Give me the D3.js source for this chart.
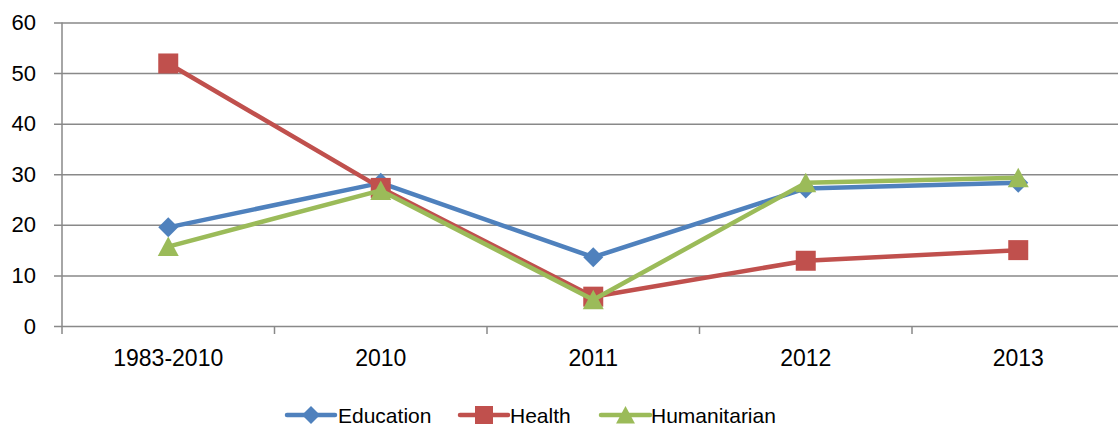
<!DOCTYPE html>
<html>
<head>
<meta charset="utf-8">
<script src="https://cdn.jsdelivr.net/npm/d3@7"></script>
<style>
  html, body { margin: 0; padding: 0; background: #fff; }
  svg { display: block; font-family: "Liberation Sans", Arial, sans-serif; }
</style>
</head>
<body>
<svg id="chart" width="1118" height="429"></svg>
<script>
const categories = ["1983-2010", "2010", "2011", "2012", "2013"];
const education = [19.5, 28.3, 13.6, 27.2, 28.3];
const health = [51.9, 27.3, 5.8, 12.9, 15.0];
const humanitarian = [15.7, 26.8, 5.2, 28.3, 29.3];
const yTicks = [0, 10, 20, 30, 40, 50, 60];
const seriesNames = ["Education", "Health", "Humanitarian"];

(function () {
const series = [
  { name: seriesNames[0], values: education, color: "#4F81BD", marker: "diamond" },
  { name: seriesNames[1], values: health, color: "#C0504D", marker: "square" },
  { name: seriesNames[2], values: humanitarian, color: "#9BBB59", marker: "triangle" }
];

const svg = d3.select("#chart");
const pLeft = 62, pRight = 1124.5, pTop = 22.5, pBottom = 326;

const x = d3.scaleBand().domain(categories).range([pLeft, pRight]).padding(0);
const y = d3.scaleLinear().domain([0, 60]).range([pBottom, pTop]);
const cx = c => x(c) + x.bandwidth() / 2;

const gridColor = "#898989";

// gridlines + y labels
const yAxis = d3.axisLeft(y).tickValues(yTicks).tickSize(8).tickPadding(18);
const gy = svg.append("g").attr("transform", `translate(${pLeft},0)`).call(yAxis);
gy.select(".domain").remove();
gy.selectAll(".tick line").attr("stroke", gridColor).attr("stroke-width", 1.5)
  .attr("x1", -8).attr("x2", pRight - pLeft);
gy.selectAll(".tick text").attr("font-size", 22).attr("fill", "#000")
  .attr("font-family", "Liberation Sans, Arial, sans-serif");

// y axis line
svg.append("line").attr("x1", pLeft).attr("x2", pLeft).attr("y1", pTop).attr("y2", pBottom + 8)
  .attr("stroke", gridColor).attr("stroke-width", 1.5);

// x axis labels
const xAxis = d3.axisBottom(x).tickSize(0).tickPadding(24);
const gx = svg.append("g").attr("transform", `translate(0,${pBottom})`).call(xAxis);
gx.select(".domain").remove();
gx.selectAll(".tick line").remove();
gx.selectAll(".tick text").attr("font-size", 23).attr("fill", "#000")
  .attr("font-family", "Liberation Sans, Arial, sans-serif");

// x tick marks at band boundaries
const boundaries = categories.map(c => x(c)).concat([pRight]);
svg.append("g").selectAll("line").data(boundaries.slice(1)).join("line")
  .attr("x1", d => d).attr("x2", d => d).attr("y1", pBottom).attr("y2", pBottom + 8)
  .attr("stroke", gridColor).attr("stroke-width", 1.5);

function markerPath(type, s) {
  if (type === "diamond") return `M0,${-s}L${s},0L0,${s}L${-s},0Z`;
  if (type === "square") return `M${-s},${-s}H${s}V${s}H${-s}Z`;
  return `M0,${-s}L${s * 1.05},${s * 0.95}L${-s * 1.05},${s * 0.95}Z`;
}
const markerSize = { diamond: 10, square: 10, triangle: 10 };

const line = d3.line().x((d, i) => cx(categories[i])).y(d => y(d));

series.forEach(s => {
  const g = svg.append("g");
  g.append("path").datum(s.values).attr("d", line)
    .attr("fill", "none").attr("stroke", s.color).attr("stroke-width", 4.5)
    .attr("stroke-linejoin", "round").attr("stroke-linecap", "round");
  g.selectAll("path.m").data(s.values).join("path").attr("class", "m")
    .attr("transform", (d, i) => `translate(${cx(categories[i])},${y(d)})`)
    .attr("d", markerPath(s.marker, markerSize[s.marker]))
    .attr("fill", s.color);
});

// legend
const legendItems = [
  { x1: 287, x2: 335, tx: 338 },
  { x1: 460, x2: 508, tx: 510 },
  { x1: 601, x2: 650, tx: 651 }
];
const ly = 415;
series.forEach((s, i) => {
  const L = legendItems[i];
  const g = svg.append("g");
  g.append("line").attr("x1", L.x1).attr("x2", L.x2).attr("y1", ly).attr("y2", ly)
    .attr("stroke", s.color).attr("stroke-width", 4.5).attr("stroke-linecap", "round");
  g.append("path").attr("transform", `translate(${(L.x1 + L.x2) / 2},${ly})`)
    .attr("d", markerPath(s.marker, 9)).attr("fill", s.color);
  g.append("text").attr("x", L.tx).attr("y", ly).attr("dy", "0.36em")
    .attr("font-size", 21).attr("fill", "#000").text(s.name);
});
})();
</script>
</body>
</html>
